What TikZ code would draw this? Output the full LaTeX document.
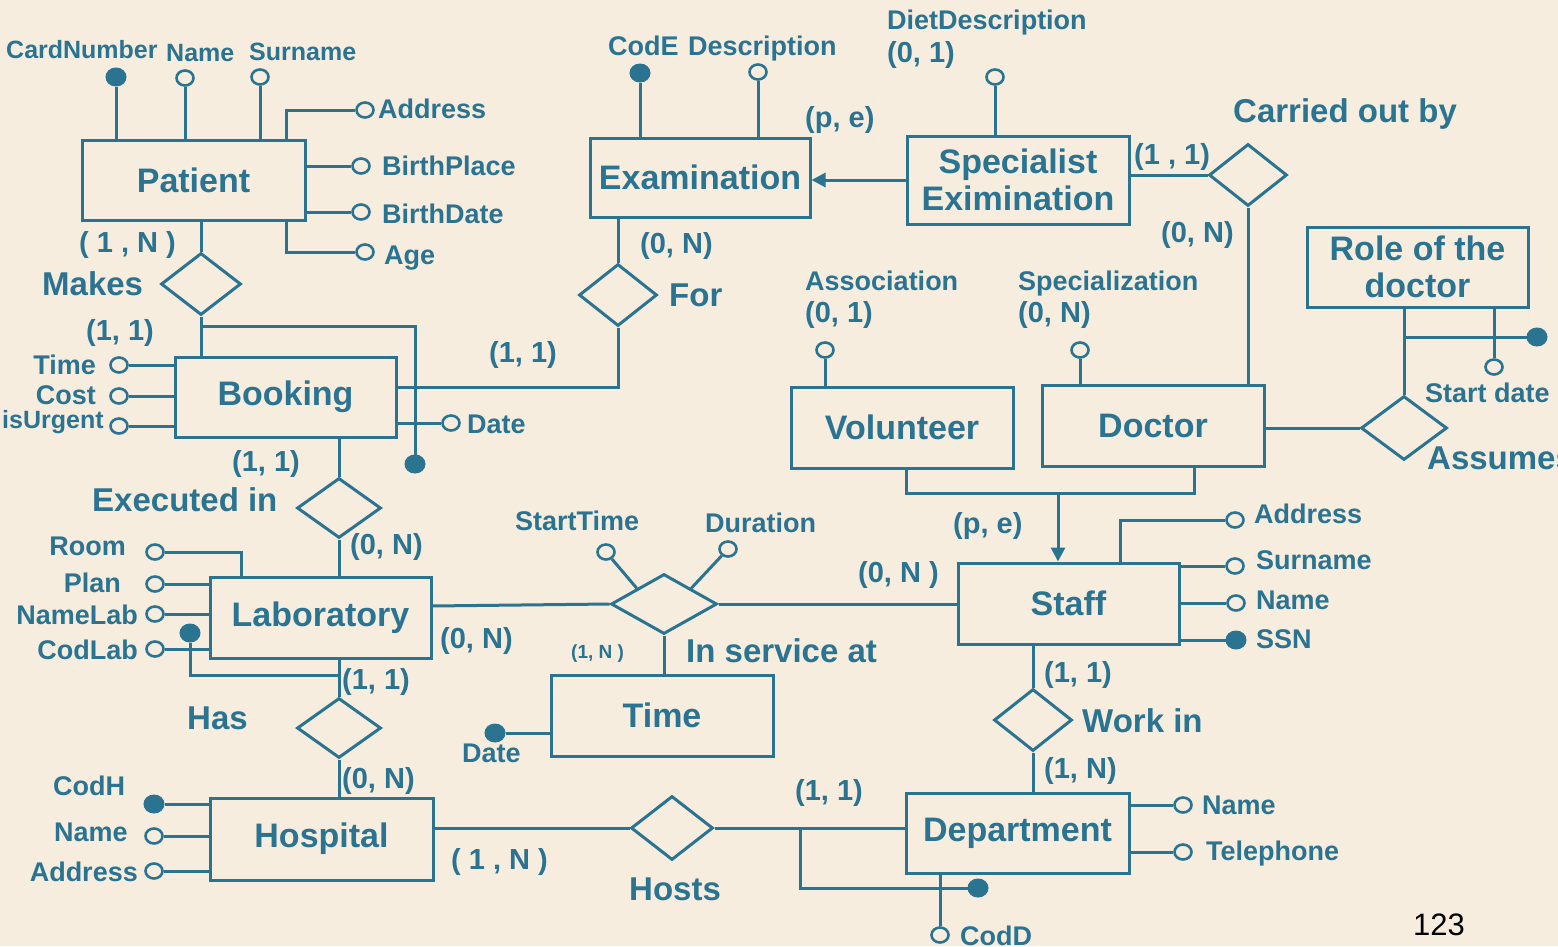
\documentclass[tikz,border=0pt]{standalone}
\usepackage{fontspec}
\setmainfont{Liberation Sans}
\usetikzlibrary{shapes.geometric,arrows.meta}
\definecolor{er}{RGB}{42,115,145}
\definecolor{bg}{RGB}{246,237,223}
\tikzset{
 ent/.style={draw=er, line width=3pt, rectangle, inner sep=0pt, text=er, align=center, font=\fontsize{34}{37}\selectfont\bfseries},
 rel/.style={draw=er, line width=3pt, diamond, inner sep=0pt},
 oatt/.style={draw=er, line width=2.6pt, fill=bg, ellipse, minimum width=17pt, minimum height=15pt, inner sep=0pt},
 fatt/.style={draw=er, fill=er, line width=1pt, ellipse, minimum width=20pt, minimum height=18pt, inner sep=0pt},
 lab/.style={text=er, inner sep=0pt, font=\fontsize{27}{30}\selectfont\bfseries},
 slab/.style={text=er, inner sep=0pt, font=\fontsize{25}{28}\selectfont\bfseries},
 big/.style={text=er, inner sep=0pt, font=\fontsize{33}{37}\selectfont\bfseries},
 card/.style={text=er, inner sep=0pt, font=\fontsize{29}{30}\selectfont\bfseries},
 con/.style={draw=er, line width=3pt},
 arr/.style={draw=er, line width=3pt, -{Triangle[length=14pt,width=14pt]}},
}
\begin{document}
\begin{tikzpicture}[x=1pt,y=-1pt]
\fill[bg] (0,0) rectangle (1558,946);
\useasboundingbox (0,0) rectangle (1558,946);

% ---------- entities ----------
\node[ent, minimum width=223pt, minimum height=80pt] (patient) at (193.5,180) {Patient};
\node[ent, minimum width=221pt, minimum height=80pt] (booking) at (285.5,397) {Booking};
\node[ent, minimum width=221pt, minimum height=81pt] (lab) at (320.5,617.5) {Laboratory};
\node[ent, minimum width=223pt, minimum height=82pt] (hospital) at (321.5,839) {Hospital};
\node[ent, minimum width=220pt, minimum height=79pt] (exam) at (700,177.5) {Examination};
\node[ent, minimum width=222pt, minimum height=88pt] (spec) at (1018,180) {Specialist\\Eximination};
\node[ent, minimum width=221pt, minimum height=80pt] (role) at (1417.5,267) {Role of the\\doctor};
\node[ent, minimum width=222pt, minimum height=81pt] (volunteer) at (902,427.5) {Volunteer};
\node[ent, minimum width=222pt, minimum height=81pt] (doctor) at (1153,425.5) {Doctor};
\node[ent, minimum width=221pt, minimum height=81pt] (staff) at (1068.5,603.5) {Staff};
\node[ent, minimum width=222pt, minimum height=81pt] (time) at (662,715.5) {Time};
\node[ent, minimum width=223pt, minimum height=80pt] (dept) at (1017.5,833) {Department};

% ---------- relationships ----------
\node[rel, minimum width=80pt, minimum height=62pt] (makes) at (201,284) {};
\node[rel, minimum width=78pt, minimum height=62pt] (for) at (618,295) {};
\node[rel, minimum width=84pt, minimum height=60pt] (exec) at (339,508) {};
\node[rel, minimum width=84pt, minimum height=60pt] (has) at (339,728) {};
\node[rel, minimum width=82pt, minimum height=64pt] (hosts) at (672,828) {};
\node[rel, minimum width=106pt, minimum height=60pt] (insvc) at (664,604) {};
\node[rel, minimum width=78pt, minimum height=62pt] (workin) at (1033,720) {};
\node[rel, minimum width=78pt, minimum height=62pt] (carried) at (1248,175) {};
\node[rel, minimum width=86pt, minimum height=64pt] (assumes) at (1404,428) {};

% ---------- helper coordinates ----------
\coordinate (bk1) at (201,326);
\coordinate (bkR) at (396,387);
\coordinate (labR) at (431,606);
\coordinate (hosR) at (433,828);
\coordinate (dk) at (800,828);
\coordinate (g1) at (906,493);
\coordinate (g2) at (1194,493);
\coordinate (g3) at (1058,493);
\coordinate (r1) at (1404,337);
\coordinate (pA) at (286,140);
\coordinate (pG) at (286,220);
\coordinate (lR) at (241,577);
\coordinate (lH) at (339,675);
\coordinate (sA) at (1120,563);

% ---------- relationship connectors ----------
\draw[con] (makes.north) -- (makes.north |- patient.south);
\draw[con] (makes.south) -- (makes.south |- booking.north);
\draw[con] (for.north) -- (for.north |- exam.south);
\draw[con] (for.south) |- (bkR);
\draw[con] (exec.north) -- (exec.north |- booking.south);
\draw[con] (exec.south) -- (exec.south |- lab.north);
\draw[con] (has.north) -- (has.north |- lab.south);
\draw[con] (has.south) -- (has.south |- hospital.north);
\draw[con] (hosR) -- (hosts.west);
\draw[con] (hosts.east) -- (hosts.east -| dept.west);
\draw[con] (labR) -- (insvc.west);
\draw[con] (insvc.east) -- (insvc.east -| staff.west);
\draw[con] (insvc.south) -- (insvc.south |- time.north);
\draw[con] (workin.north) -- (workin.north |- staff.south);
\draw[con] (workin.south) -- (workin.south |- dept.north);
\draw[con] (carried.south) -- (carried.south |- doctor.north);
\draw[con] (carried.west) -- (carried.west -| spec.east);
\draw[con] (assumes.west) -- (assumes.west -| doctor.east);
\draw[con] (assumes.north) -- (assumes.north |- role.south);
\draw[arr] (spec.west) -- (spec.west -| exam.east);
\draw[con] (volunteer.south -| g1) -- (g1) -- (g2) -- (g2 |- doctor.south);
\draw[arr] (g3) -- (g3 |- staff.north);

% ---------- attributes ----------
% Patient
\node[fatt] (cn) at (116,77) {};
\node[oatt] (pname) at (185,78) {};
\node[oatt] (psur) at (260,77) {};
\node[oatt] (paddr) at (365,110) {};
\node[oatt] (pbp) at (361,166) {};
\node[oatt] (pbd) at (361,212) {};
\node[oatt] (page) at (365,252) {};
\draw[con] (cn) -- (cn |- patient.north);
\draw[con] (pname) -- (pname |- patient.north);
\draw[con] (psur) -- (psur |- patient.north);
\draw[con] (paddr) -| (pA);
\draw[con] (pbp) -- (pbp -| patient.east);
\draw[con] (pbd) -- (pbd -| patient.east);
\draw[con] (page) -| (pG);
% Booking
\node[oatt] (btime) at (119,365) {};
\node[oatt] (bcost) at (119,396) {};
\node[oatt] (burg) at (119,426) {};
\node[oatt] (bdate) at (451,423) {};
\node[fatt] (bkid) at (415,464) {};
\draw[con] (btime) -- (btime -| booking.west);
\draw[con] (bcost) -- (bcost -| booking.west);
\draw[con] (burg) -- (burg -| booking.west);
\draw[con] (bdate) -- (bdate -| booking.east);
\draw[con] (bk1) -| (bkid);
% Examination
\node[fatt] (code) at (640,73) {};
\node[oatt] (edesc) at (758,72) {};
\draw[con] (code) -- (code |- exam.north);
\draw[con] (edesc) -- (edesc |- exam.north);
\node[oatt] (diet) at (995,77) {};
\draw[con] (diet) -- (diet |- spec.north);
% Laboratory
\node[oatt] (lroom) at (155,552) {};
\node[oatt] (lplan) at (155,584) {};
\node[oatt] (lname) at (155,614) {};
\node[oatt] (lcod) at (155,649) {};
\node[fatt] (labid) at (190,633) {};
\draw[con] (lroom) -| (lR);
\draw[con] (lplan) -- (lplan -| lab.west);
\draw[con] (lname) -- (lname -| lab.west);
\draw[con] (lcod) -- (lcod -| lab.west);
\draw[con] (labid) |- (lH);
% Hospital
\node[fatt] (codh) at (154,804) {};
\node[oatt] (hname) at (154,836) {};
\node[oatt] (haddr) at (154,871) {};
\draw[con] (codh) -- (codh -| hospital.west);
\draw[con] (hname) -- (hname -| hospital.west);
\draw[con] (haddr) -- (haddr -| hospital.west);
% In service at
\node[oatt] (sttime) at (606,552) {};
\node[oatt] (dur) at (728,549) {};
\draw[con] (sttime) -- (insvc.north west);
\draw[con] (dur) -- (insvc.north east);
% Time
\node[fatt] (tdate) at (495,733) {};
\draw[con] (tdate) -- (tdate -| time.west);
% Volunteer / Doctor
\node[oatt] (assoc) at (825,350) {};
\node[oatt] (specz) at (1080,350) {};
\draw[con] (assoc) -- (assoc |- volunteer.north);
\draw[con] (specz) -- (specz |- doctor.north);
% Role
\node[fatt] (roleid) at (1537,337) {};
\node[oatt] (sdate) at (1494,367) {};
\draw[con] (r1) -- (roleid);
\draw[con] (sdate) -- (sdate |- role.south);
% Staff
\node[oatt] (saddr) at (1235,520) {};
\node[oatt] (ssur) at (1235,566) {};
\node[oatt] (sname) at (1236,603) {};
\node[fatt] (ssn) at (1236,640) {};
\draw[con] (saddr) -| (sA);
\draw[con] (ssur) -- (ssur -| staff.east);
\draw[con] (sname) -- (sname -| staff.east);
\draw[con] (ssn) -- (ssn -| staff.east);
% Department
\node[oatt] (dname) at (1183,805) {};
\node[oatt] (dtel) at (1183,852) {};
\node[fatt] (deptid) at (978,888) {};
\node[oatt] (codd) at (940,935) {};
\draw[con] (dname) -- (dname -| dept.east);
\draw[con] (dtel) -- (dtel -| dept.east);
\draw[con] (dk) |- (deptid);
\draw[con] (codd) -- (codd |- dept.south);

% ---------- labels ----------
\node[slab, anchor=base west] (tCard) at (6,58) {CardNumber};
\node[slab, anchor=base west] (tPName) at (166,61) {Name};
\node[slab, anchor=base west] (tPSur) at (249,60) {Surname};
\node[lab, anchor=base west] (tPAddr) at (378,118) {Address};
\node[lab, anchor=base west] (tPBP) at (382,175) {BirthPlace};
\node[lab, anchor=base west] (tPBD) at (382,223) {BirthDate};
\node[lab, anchor=base west] (tPAge) at (384,264) {Age};
\node[card, anchor=base west] (c1) at (79,252) {( 1 , N )};
\node[big, anchor=base west] (tMakes) at (42,295) {Makes};
\node[card, anchor=base west] (c2) at (86,340) {(1, 1)};
\node[lab, anchor=base east] (tBTime) at (96,374) {Time};
\node[lab, anchor=base east] (tBCost) at (96,404) {Cost};
\node[slab, anchor=base west] (tBUrg) at (2,428) {isUrgent};
\node[lab, anchor=base west] (tBDate) at (467,433) {Date};
\node[card, anchor=base west] (c3) at (489,362) {(1, 1)};
\node[card, anchor=base west] (c4) at (640,253) {(0, N)};
\node[big, anchor=base west] (tFor) at (669,306) {For};
\node[card, anchor=base west] (c5) at (232,471) {(1, 1)};
\node[big, anchor=base west] (tExec) at (92,511) {Executed in};
\node[card, anchor=base west] (c6) at (350,554) {(0, N)};
\node[lab, anchor=base east] (tRoom) at (126,555) {Room};
\node[lab, anchor=base east] (tPlan) at (121,592) {Plan};
\node[lab, anchor=base east] (tLName) at (138,624) {NameLab};
\node[lab, anchor=base east] (tLCod) at (138,659) {CodLab};
\node[card, anchor=base west] (c7) at (440,648) {(0, N)};
\node[card, anchor=base west] (c8) at (342,689) {(1, 1)};
\node[big, anchor=base west] (tHas) at (187,729) {Has};
\node[card, anchor=base west] (c9) at (342,788) {(0, N)};
\node[lab, anchor=base west] (tCodH) at (53,795) {CodH};
\node[lab, anchor=base west] (tHName) at (54,841) {Name};
\node[lab, anchor=base east] (tHAddr) at (138,881) {Address};
\node[card, anchor=base west] (c10) at (451,869) {( 1 , N )};
\node[big, anchor=base west] (tHosts) at (629,900) {Hosts};
\node[card, anchor=base west] (c11) at (795,800) {(1, 1)};
\node[lab, anchor=base west] (tCodD) at (960,945) {CodD};
\node[lab, anchor=base west] (tTDate) at (462,762) {Date};
\node[text=er, inner sep=0pt, font=\fontsize{19}{21}\selectfont\bfseries, anchor=base west] (c12) at (571,658) {(1, N )};
\node[big, anchor=base west] (tInsvc) at (686,662) {In service at};
\node[lab, anchor=base west] (tStart) at (515,530) {StartTime};
\node[lab, anchor=base west] (tDur) at (705,532) {Duration};
\node[card, anchor=base west] (c13) at (858,582) {(0, N )};
\node[card, anchor=base west] (c14) at (953,533) {(p, e)};
\node[lab, anchor=base west] (tSAddr) at (1254,523) {Address};
\node[lab, anchor=base west] (tSSur) at (1256,569) {Surname};
\node[lab, anchor=base west] (tSName) at (1256,609) {Name};
\node[lab, anchor=base west] (tSSN) at (1256,648) {SSN};
\node[card, anchor=base west] (c15) at (1044,682) {(1, 1)};
\node[big, anchor=base west] (tWork) at (1082,732) {Work in};
\node[card, anchor=base west] (c16) at (1044,778) {(1, N)};
\node[lab, anchor=base west] (tDName) at (1202,814) {Name};
\node[lab, anchor=base west] (tDTel) at (1206,860) {Telephone};
\node[lab, anchor=base west] (tAssoc) at (805,290) {Association};
\node[card, anchor=base west] (c17) at (805,322) {(0, 1)};
\node[lab, anchor=base west] (tSpecz) at (1018,290) {Specialization};
\node[card, anchor=base west] (c18) at (1018,322) {(0, N)};
\node[lab, anchor=base west] (tCodE) at (608,55) {CodE};
\node[lab, anchor=base west] (tDesc) at (688,55) {Description};
\node[lab, anchor=base west] (tDiet) at (887,29) {DietDescription};
\node[card, anchor=base west] (c19) at (887,62) {(0, 1)};
\node[card, anchor=base west] (c20) at (805,127) {(p, e)};
\node[big, anchor=base west] (tCarried) at (1233,122) {Carried out by};
\node[card, anchor=base west] (c21) at (1134,164) {(1 , 1)};
\node[card, anchor=base west] (c22) at (1161,242) {(0, N)};
\node[lab, anchor=base west] (tSDate) at (1425,402) {Start date};
\node[big, anchor=base west] (tAssumes) at (1427,469) {Assumes};
\node[inner sep=0pt, font=\fontsize{31}{34}\selectfont, anchor=base west] (pnum) at (1413,935) {123};
\end{tikzpicture}
\end{document}
